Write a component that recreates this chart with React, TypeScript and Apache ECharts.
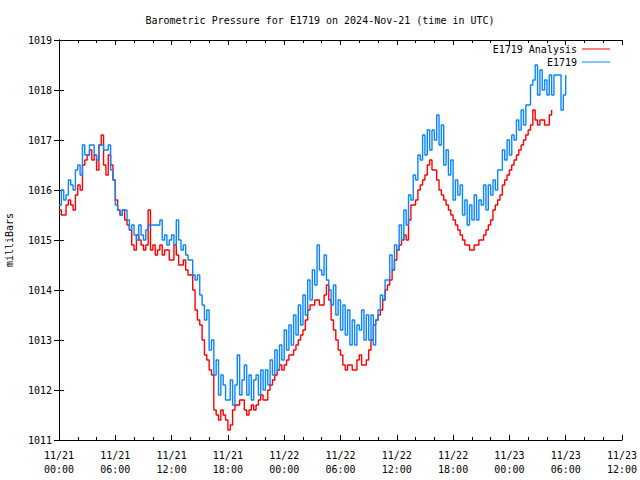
import React, { useEffect, useRef } from "react";
import * as echarts from "echarts";

// Hours since 2024-11-21 00:00 UTC, samples every 15 minutes
const stepHours = 0.25;

const analysisValues = [
  1015.6, 1015.5, 1015.5, 1015.7, 1015.8, 1015.7, 1015.6, 1015.9,
  1016.1, 1016.0, 1016.5, 1016.6, 1016.7, 1016.8, 1016.6, 1016.7,
  1016.4, 1016.9, 1017.1, 1016.5, 1016.3, 1016.7, 1016.5, 1016.2,
  1015.8, 1015.6, 1015.5, 1015.6, 1015.4, 1015.3, 1015.2, 1014.9,
  1014.8, 1015.1, 1015.0, 1014.9, 1014.8, 1014.9, 1015.6, 1014.8,
  1014.9, 1014.7, 1014.8, 1014.9, 1014.7, 1014.8, 1014.8, 1014.6,
  1014.6, 1014.9, 1014.7, 1014.5, 1014.5, 1014.6, 1014.4, 1014.3,
  1014.3, 1014.0, 1013.6, 1013.4, 1013.3, 1013.0, 1012.7, 1012.6,
  1012.4, 1012.3, 1011.6, 1011.5, 1011.4, 1011.6, 1011.5, 1011.4,
  1011.2, 1011.3, 1011.6, 1011.7, 1011.7, 1011.8, 1011.8, 1011.6,
  1011.5, 1011.6, 1011.7, 1011.6, 1011.7, 1011.8, 1011.9, 1011.8,
  1011.8, 1012.0, 1012.1, 1012.2, 1012.3, 1012.4, 1012.5, 1012.4,
  1012.5, 1012.6, 1012.7, 1012.7, 1012.8, 1012.9, 1013.0, 1013.1,
  1013.2, 1013.4, 1013.6, 1013.7, 1013.7, 1013.8, 1013.8, 1013.7,
  1013.7, 1013.9, 1014.1, 1013.8, 1013.4, 1013.2, 1013.0, 1012.8,
  1012.7, 1012.5, 1012.4, 1012.5, 1012.5, 1012.4, 1012.4, 1012.6,
  1012.7, 1012.5, 1012.5, 1012.6, 1012.8, 1013.0, 1013.3, 1013.4,
  1013.5, 1013.6, 1013.8, 1014.0, 1014.1, 1014.2, 1014.4, 1014.6,
  1014.8, 1014.9, 1015.0, 1015.1, 1015.0, 1015.4, 1015.7, 1015.7,
  1015.8, 1016.0, 1016.1, 1016.2, 1016.3, 1016.5, 1016.6, 1016.4,
  1016.4, 1016.2, 1016.0, 1015.9, 1015.8, 1015.7, 1015.6, 1015.5,
  1015.4, 1015.3, 1015.2, 1015.1, 1015.0, 1014.9, 1014.9, 1014.8,
  1014.8, 1014.9, 1014.9, 1015.0, 1015.0, 1015.1, 1015.2, 1015.3,
  1015.4, 1015.6, 1015.7, 1015.8, 1015.9, 1016.1, 1016.2, 1016.3,
  1016.4, 1016.5, 1016.6, 1016.7, 1016.8, 1016.9, 1017.0, 1017.1,
  1017.2, 1017.3, 1017.6, 1017.4, 1017.3, 1017.4, 1017.4, 1017.3,
  1017.3, 1017.5, 1017.6,
];

const stationValues = [
  1015.7, 1016.0, 1015.8, 1015.9, 1016.2, 1016.1, 1016.0, 1016.4,
  1016.5, 1016.3, 1016.9, 1016.7, 1016.7, 1016.9, 1016.9, 1016.7,
  1016.6, 1016.9, 1016.9, 1016.8, 1016.8, 1016.9, 1016.4, 1016.2,
  1015.7, 1015.6, 1015.5, 1015.6, 1015.6, 1015.4, 1015.2, 1015.3,
  1015.1, 1015.0, 1015.3, 1015.1, 1015.0, 1015.2, 1015.3, 1015.3,
  1015.3, 1015.3, 1015.3, 1015.4, 1015.0, 1015.1, 1014.9, 1015.0,
  1015.1, 1014.9, 1015.4, 1015.0, 1014.8, 1014.9, 1014.7, 1014.6,
  1014.6, 1014.3, 1014.2, 1014.3, 1013.9, 1013.7, 1013.4, 1013.6,
  1012.8, 1013.0, 1012.3, 1012.6, 1011.9, 1012.3, 1012.1, 1011.8,
  1011.8, 1012.2, 1011.7, 1012.1, 1012.7, 1011.9, 1012.2, 1012.5,
  1011.9, 1012.3, 1011.8, 1012.2, 1012.3, 1011.9, 1012.4, 1012.0,
  1012.4, 1012.1, 1012.6, 1012.3, 1012.8, 1012.4, 1012.9, 1012.6,
  1013.2, 1012.8, 1013.3, 1012.9, 1013.5, 1013.1, 1013.7, 1013.3,
  1013.9, 1013.5, 1014.2, 1013.8, 1014.4, 1014.1, 1014.9, 1014.4,
  1014.3, 1014.7, 1014.2, 1014.0, 1013.7, 1014.1, 1013.5, 1013.8,
  1013.2, 1013.7, 1013.1, 1013.6, 1012.9, 1013.4, 1012.9, 1013.3,
  1013.2, 1013.6, 1013.0, 1013.5, 1013.0, 1013.5, 1012.9, 1013.4,
  1013.6, 1013.9, 1013.8, 1014.2, 1014.2, 1014.7, 1014.4, 1014.9,
  1014.8, 1015.3, 1015.0, 1015.6, 1015.3, 1015.9, 1015.8, 1016.3,
  1016.2, 1016.7, 1016.6, 1017.1, 1016.7, 1017.2, 1016.8, 1017.2,
  1017.0, 1017.5, 1016.9, 1017.3, 1016.5, 1016.8, 1016.3, 1016.6,
  1015.8, 1016.2, 1015.9, 1016.1, 1015.5, 1015.8, 1015.3, 1015.7,
  1015.4, 1015.9, 1015.4, 1015.8, 1015.7, 1016.1, 1015.6, 1016.1,
  1015.9, 1016.2, 1016.0, 1016.4, 1016.4, 1016.8, 1016.6, 1017.0,
  1016.7, 1017.1, 1017.0, 1017.4, 1017.2, 1017.6, 1017.3, 1017.7,
  1017.7, 1018.1, 1018.2, 1018.5, 1017.9, 1018.4, 1018.0, 1018.2,
  1017.9, 1018.3, 1017.9, 1018.3, 1018.3, 1018.3, 1017.6, 1017.9,
  1018.3,
];

const FONT = "DejaVu Sans Mono";
const pad = (n: number) => (n < 10 ? "0" + n : "" + n);

function fmtHour(v: number) {
  const d = new Date(Date.UTC(2024, 10, 21) + v * 3600 * 1000);
  return `${pad(d.getUTCMonth() + 1)}/${pad(d.getUTCDate())}\n${pad(d.getUTCHours())}:${pad(d.getUTCMinutes())}`;
}

export default function App() {
  const ref = useRef<HTMLDivElement>(null);
  useEffect(() => {
    document.body.style.margin = "0";
    const chart = echarts.init(ref.current!, undefined, { renderer: "svg" });
    const toPairs = (arr: number[]) => arr.map((v, i) => [i * stepHours, v]);
    const xCommon = {
      type: "value" as const,
      min: 0,
      max: 60,
      interval: 6,
      splitLine: { show: false },
      axisLine: { onZero: false, lineStyle: { color: "#000", width: 1 } },
      axisTick: { inside: true, length: 5, lineStyle: { color: "#000" } },
      minorTick: { show: true, splitNumber: 3, length: 3, lineStyle: { color: "#000" } },
    };
    const yCommon = {
      type: "value" as const,
      min: 1011,
      max: 1019,
      interval: 1,
      splitLine: { show: false },
      axisLine: { lineStyle: { color: "#000", width: 1 } },
      axisTick: { inside: true, length: 5, lineStyle: { color: "#000" } },
    };
    const legendCommon = {
      right: 30,
      padding: 0,
      align: "right" as const,
      itemWidth: 28,
      itemHeight: 1,
      icon: "rect",
      textStyle: { fontFamily: FONT, fontSize: 10, color: "#000" },
    };
    chart.setOption({
      animation: false,
      backgroundColor: "#fff",
      title: {
        text: "Barometric Pressure for E1719 on 2024-Nov-21 (time in UTC)",
        left: "center",
        top: 10,
        textStyle: { fontFamily: FONT, fontSize: 10, fontWeight: "normal", color: "#000" },
      },
      legend: [
        { ...legendCommon, data: ["E1719 Analysis"], top: 44 },
        { ...legendCommon, data: ["E1719"], top: 57 },
      ],
      grid: {
        left: 59,
        right: 18,
        top: 40,
        bottom: 40,
        containLabel: false,
        outerBoundsMode: "none",
      },
      xAxis: [
        {
          ...xCommon,
          position: "bottom",
          axisLabel: {
            formatter: fmtHour,
            fontFamily: FONT,
            fontSize: 10,
            color: "#000",
            lineHeight: 14,
            margin: 8,
            showMinLabel: true,
            showMaxLabel: true,
          },
        },
        { ...xCommon, position: "top", axisLabel: { show: false } },
      ],
      yAxis: [
        {
          ...yCommon,
          position: "left",
          name: "milliBars",
          nameLocation: "middle",
          nameRotate: 90,
          nameGap: 45,
          nameTextStyle: { fontFamily: FONT, fontSize: 10, color: "#000" },
          axisLabel: {
            fontFamily: FONT,
            fontSize: 10,
            color: "#000",
            margin: 7,
            formatter: (v: number) => String(v),
          },
        },
        { ...yCommon, position: "right", axisLabel: { show: false } },
      ],
      series: [
        {
          name: "E1719 Analysis",
          type: "line",
          step: "end",
          showSymbol: false,
          symbol: "none",
          data: toPairs(analysisValues),
          lineStyle: { color: "#ff0000", width: 1.4 },
          itemStyle: { color: "#ff0000" },
        },
        {
          name: "E1719",
          type: "line",
          step: "end",
          showSymbol: false,
          symbol: "none",
          data: toPairs(stationValues),
          lineStyle: { color: "#0a84ff", width: 1.4 },
          itemStyle: { color: "#0a84ff" },
        },
      ],
    });
    return () => chart.dispose();
  }, []);
  return <div ref={ref} style={{ width: 640, height: 480 }} />;
}
